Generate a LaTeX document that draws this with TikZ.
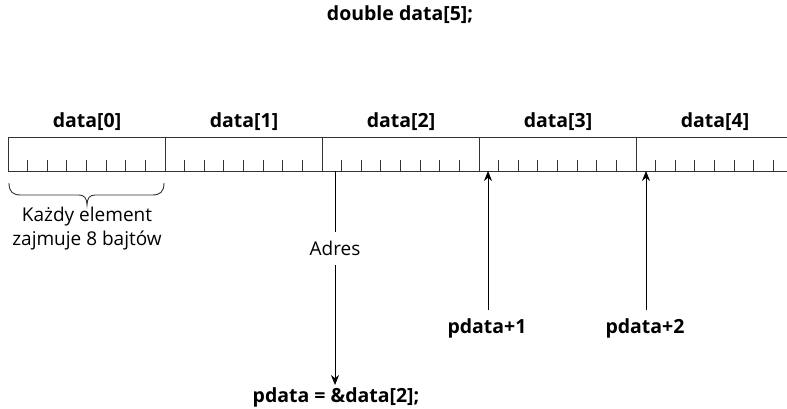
\documentclass[tikz,border=0pt]{standalone}
\usepackage{fontspec}
\setmainfont{Open Sans}
\usetikzlibrary{arrows.meta}
\begin{document}
\begin{tikzpicture}[x=1pt,y=-1pt,
  lbl/.style={font=\fontsize{19.5}{22}\selectfont\bfseries, inner sep=0pt},
  txt/.style={font=\fontsize{19}{24}\selectfont, inner sep=0pt, align=center},
  bar/.style={draw=black!80, line width=1pt},
  tick/.style={draw=black!80, line width=0.8pt},
  bracestyle/.style={draw=black!80, line width=0.9pt},
  arr/.style={draw=black, line width=0.9pt, -{Stealth[length=10pt,width=8pt]}}]
\useasboundingbox (0,0) rectangle (787,408);
% bar
\draw[bar] (787,137) -- (8,137) -- (8,171) -- (787,171);
\foreach \i in {1,...,4} {\draw[bar] (8+157*\i,137) -- (8+157*\i,171);}
\foreach \c in {0,...,4} {
  \foreach \k in {1,...,7} {\draw[tick] (8+157*\c+19.6*\k,160) -- (8+157*\c+19.6*\k,171);}
  \node[lbl] (d\c) at (87+157*\c,122) {data[\c]};
}
\node[lbl] (title) at (400,15) {double data[5];};
% brace
\draw[bracestyle] (9,183) .. controls (9,192) and (13,195) .. (21,195) -- (79,195)
  .. controls (84,195) and (87,198) .. (87,205)
  .. controls (87,198) and (90,195) .. (95,195) -- (152,195)
  .. controls (160,195) and (164,192) .. (164,183);
\node[txt] (each) at (87,229) {Każdy element\\zajmuje 8 bajtów};
% adres
\coordinate (a0) at (335,171);
\node[txt] (adres) at (335,248) {Adres};
\node[lbl] (pd) at (336,397) {pdata = \&data[2];};
\draw[draw=black, line width=0.9pt] (a0) -- (335,232);
\coordinate (pdtip) at (335,385);
\draw[arr] (335,265) -- (pdtip);
% pdata+1, +2
\node[lbl] (p1) at (487,328) {pdata+1};
\node[lbl] (p2) at (645,328) {pdata+2};
\coordinate (b1) at (488,171);
\coordinate (b2) at (646,171);
\draw[arr] (488,310) -- (b1);
\draw[arr] (646,310) -- (b2);
\end{tikzpicture}
\end{document}
